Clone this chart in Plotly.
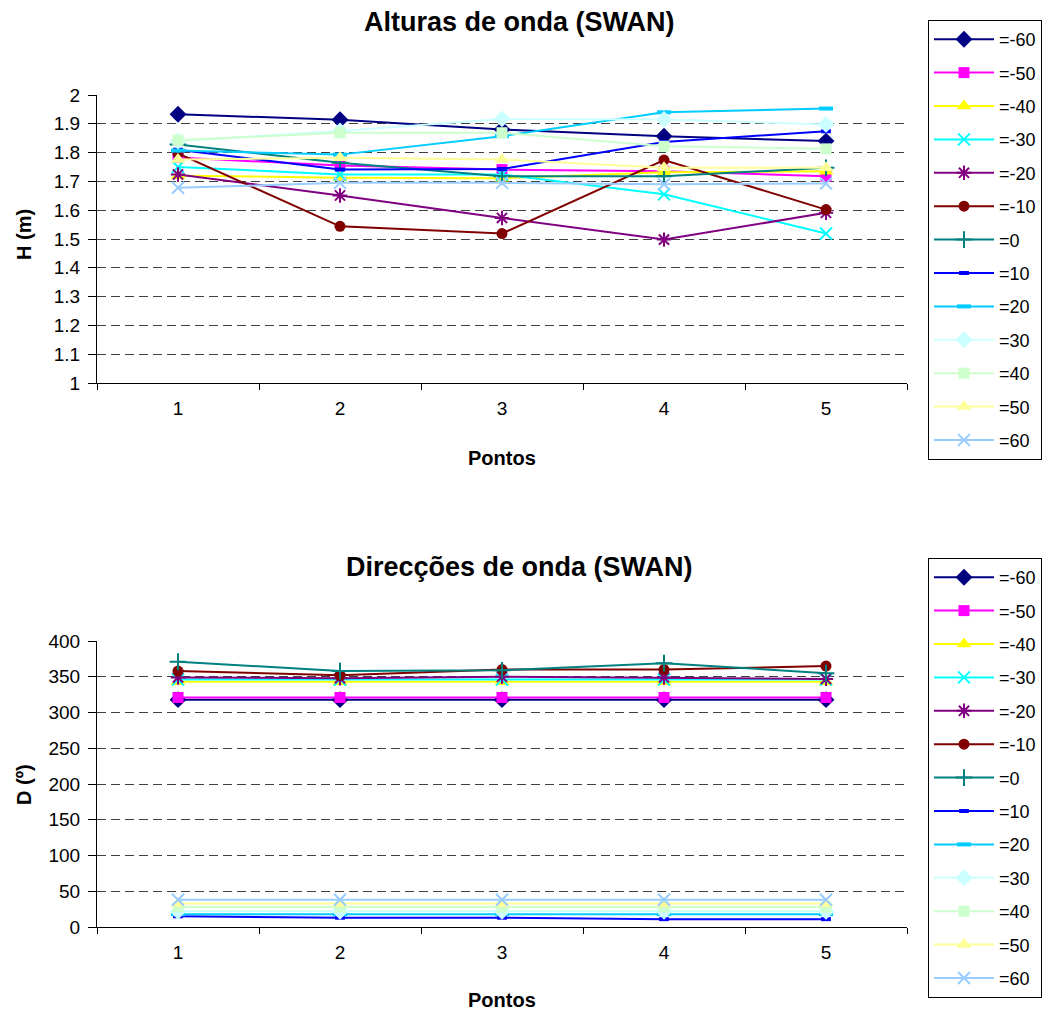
import plotly.graph_objects as go

pontos = ["1", "2", "3", "4", "5"]
series_names = ["=-60", "=-50", "=-40", "=-30", "=-20", "=-10", "=0",
                "=10", "=20", "=30", "=40", "=50", "=60"]

# Alturas de onda H (m)
h_m60 = [1.933, 1.914, 1.880, 1.857, 1.840]
h_m50 = [1.783, 1.755, 1.741, 1.735, 1.718]
h_m40 = [1.720, 1.713, 1.711, 1.732, 1.735]
h_m30 = [1.750, 1.724, 1.724, 1.655, 1.519]
h_m20 = [1.724, 1.651, 1.573, 1.498, 1.591]
h_m10 = [1.797, 1.544, 1.519, 1.774, 1.602]
h_0 = [1.828, 1.765, 1.718, 1.718, 1.747]
h_10 = [1.810, 1.741, 1.743, 1.837, 1.874]
h_20 = [1.807, 1.793, 1.857, 1.940, 1.953]
h_30 = [1.840, 1.875, 1.917, 1.915, 1.898]
h_40 = [1.843, 1.869, 1.869, 1.822, 1.813]
h_50 = [1.776, 1.782, 1.776, 1.747, 1.747]
h_60 = [1.678, 1.695, 1.695, 1.690, 1.693]

# Direcções de onda D (º)
d_m60 = [318, 318, 318, 318, 318]
d_m50 = [321, 321, 321, 321, 321]
d_m40 = [343, 343, 343, 343, 343]
d_m30 = [346, 346, 346, 346, 346]
d_m20 = [349, 348, 350, 349, 347]
d_m10 = [358, 352, 360, 360, 365]
d_0 = [371, 358, 359, 369, 355]
d_10 = [15, 13, 13, 11, 11]
d_20 = [18, 18, 18, 18, 18]
d_30 = [22, 22, 22, 22, 22]
d_40 = [28, 28, 28, 28, 28]
d_50 = [33, 33, 33, 33, 33]
d_60 = [38, 38, 38, 38, 38]

h_values = [h_m60, h_m50, h_m40, h_m30, h_m20, h_m10, h_0, h_10, h_20, h_30, h_40, h_50, h_60]
d_values = [d_m60, d_m50, d_m40, d_m30, d_m20, d_m10, d_0, d_10, d_20, d_30, d_40, d_50, d_60]

colors = ["#000080", "#FF00FF", "#FFFF00", "#00FFFF", "#800080", "#800000", "#008080",
          "#0000FF", "#00CCFF", "#CCFFFF", "#CCFFCC", "#FFFF99", "#99CCFF"]
symbols = ["diamond", "square", "triangle-up", "x-thin-open", "asterisk-open", "circle",
           "cross-thin-open", "line-ew-open", "line-ew-open", "diamond", "square",
           "triangle-up", "x-thin-open"]
sizes = [13, 11, 13, 12, 12, 11, 12, 7, 10, 13, 11, 13, 12]
mlw = [0, 0, 0, 2, 2, 0, 2, 4, 4, 0, 0, 0, 2]

FONT = "Arial, Liberation Sans, sans-serif"

fig = go.Figure()

for panel, vals, xa, ya, leg in [("a", h_values, "x", "y", "legend"),
                                 ("b", d_values, "x2", "y2", "legend2")]:
    for i, name in enumerate(series_names):
        fig.add_trace(go.Scatter(
            x=pontos, y=vals[i], name=name, mode="lines+markers",
            xaxis=xa, yaxis=ya, legend=leg, legendgroup=panel + name,
            line=dict(color=colors[i], width=2),
            marker=dict(symbol=symbols[i], size=sizes[i], color=colors[i],
                        line=dict(color=colors[i], width=mlw[i])),
        ))

W, H = 1043, 1011
xdom = [97 / W, 907 / W]
ydom1 = [1 - 383 / H, 1 - 95 / H]
ydom2 = [1 - 927 / H, 1 - 641 / H]

xcommon = dict(type="category", tickson="boundaries", ticks="outside", ticklen=6,
               tickcolor="black", showline=True, linecolor="black", linewidth=1,
               showgrid=False, zeroline=False, tickfont=dict(size=19, color="black"),
               ticklabelstandoff=8, domain=xdom, fixedrange=True,
               range=[-0.5, 4.5], autorange=False)
ycommon = dict(ticks="outside", ticklen=8, tickcolor="black", showline=True,
               linecolor="black", linewidth=1, showgrid=True, gridcolor="#404040",
               griddash="9px,5px", gridwidth=1, zeroline=False,
               tickfont=dict(size=19, color="black"), ticklabelstandoff=4,
               autorange=False)

legcommon = dict(font=dict(size=18, color="black", family=FONT), bgcolor="white",
                 bordercolor="black", borderwidth=1, tracegroupgap=7,
                 itemwidth=60, xanchor="left", yanchor="top", x=928 / W,
                 traceorder="grouped", itemclick=False, itemdoubleclick=False)

fig.update_layout(
    width=W, height=H,
    margin=dict(l=0, r=0, t=0, b=0, autoexpand=False),
    paper_bgcolor="white", plot_bgcolor="white",
    font=dict(family=FONT, color="black"),
    showlegend=True,
    xaxis=dict(**xcommon, anchor="y"),
    yaxis=dict(**ycommon, range=[1, 2], dtick=0.1, domain=ydom1, anchor="x"),
    xaxis2=dict(**xcommon, anchor="y2"),
    yaxis2=dict(**ycommon, range=[0, 400], dtick=50, domain=ydom2, anchor="x2"),
    legend=dict(**legcommon, y=1 - 20 / H),
    legend2=dict(**legcommon, y=1 - 558 / H),
    annotations=[
        dict(text="<b>Alturas de onda (SWAN)</b>", x=519 / W, y=1 - 22 / H,
             xref="paper", yref="paper", showarrow=False, font=dict(size=27),
             xanchor="center", yanchor="middle"),
        dict(text="<b>Direcções de onda (SWAN)</b>", x=519 / W, y=1 - 567 / H,
             xref="paper", yref="paper", showarrow=False, font=dict(size=27),
             xanchor="center", yanchor="middle"),
        dict(text="<b>Pontos</b>", x=502 / W, y=1 - 458 / H, xref="paper", yref="paper",
             showarrow=False, font=dict(size=20), xanchor="center", yanchor="middle"),
        dict(text="<b>Pontos</b>", x=502 / W, y=1 - 1000 / H, xref="paper", yref="paper",
             showarrow=False, font=dict(size=20), xanchor="center", yanchor="middle"),
        dict(text="<b>H (m)</b>", x=24 / W, y=1 - 235 / H, xref="paper", yref="paper",
             showarrow=False, font=dict(size=20), textangle=-90,
             xanchor="center", yanchor="middle"),
        dict(text="<b>D (º)</b>", x=24 / W, y=1 - 785 / H, xref="paper", yref="paper",
             showarrow=False, font=dict(size=20), textangle=-90,
             xanchor="center", yanchor="middle"),
    ],
)

fig.write_html("out.html")
